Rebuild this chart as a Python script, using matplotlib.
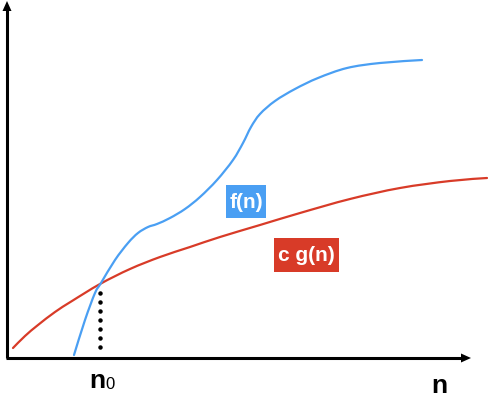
import matplotlib
matplotlib.use("Agg")
import matplotlib.pyplot as plt
from matplotlib.patches import Rectangle, PathPatch
from matplotlib.path import Path

# curve points (pixel coordinates, y downward)
f_x = [74, 85, 95, 101, 115, 128, 138, 148, 157, 170, 185, 200, 217, 233, 243, 251, 260, 275, 295, 318, 347, 380, 422]
f_y = [355, 320, 293, 283, 260, 243, 233, 227, 224, 218, 209, 197, 180, 160, 143, 127, 114, 101, 89, 78, 68, 63, 60]
g_x = [13, 25, 38, 55, 72, 100, 130, 160, 190, 220, 260, 300, 350, 400, 450, 487]
g_y = [348, 336, 325, 312, 301, 284, 269, 257, 247, 237, 225, 213, 199, 188, 181, 178]
n0_x = 100
n0_y = 283

BLUE = "#4A9FF3"
RED = "#D83B28"

plt.rcParams['font.family'] = ['Liberation Sans', 'DejaVu Sans']


def smooth_path(xs, ys):
    pts = list(zip(xs, ys))
    verts = [pts[0]]
    codes = [Path.MOVETO]
    n = len(pts)
    for i in range(n - 1):
        p0 = pts[i - 1] if i > 0 else pts[i]
        p1 = pts[i]
        p2 = pts[i + 1]
        p3 = pts[i + 2] if i + 2 < n else pts[i + 1]
        c1 = (p1[0] + (p2[0] - p0[0]) / 6, p1[1] + (p2[1] - p0[1]) / 6)
        c2 = (p2[0] - (p3[0] - p1[0]) / 6, p2[1] - (p3[1] - p1[1]) / 6)
        verts += [c1, c2, p2]
        codes += [Path.CURVE4] * 3
    return Path(verts, codes)


fig = plt.figure(figsize=(4.88, 4.03), dpi=100)
ax = fig.add_axes([0, 0, 1, 1])
ax.set_xlim(0, 488)
ax.set_ylim(403, 0)
ax.axis('off')

# axes with arrows
ax.plot([7, 7], [358, 10], color='black', lw=2.2, solid_capstyle='butt')
ax.fill([2.5, 11.5, 7], [11, 11, 1], color='black', lw=0)
ax.plot([6, 462], [358, 358], color='black', lw=2.2, solid_capstyle='butt')
ax.fill([461, 461, 471], [353.5, 362.5, 358], color='black', lw=0)

# curves
ax.add_patch(PathPatch(smooth_path(g_x, g_y), fill=False, edgecolor=RED, lw=1.6,
                       capstyle='round', joinstyle='round'))
ax.add_patch(PathPatch(smooth_path(f_x, f_y), fill=False, edgecolor=BLUE, lw=1.6,
                       capstyle='round', joinstyle='round'))

# dotted line at n0
ys = [n0_y + 10 + 9 * i for i in range(7)]
ax.plot([n0_x] * len(ys), ys, linestyle='none', marker='o', ms=2.2, color='black')

# labels
ax.add_patch(Rectangle((226, 185), 40, 33, color=BLUE, lw=0))
ax.text(246, 202, "f(n)", color='white', fontsize=15, fontweight='bold', ha='center', va='center')
ax.add_patch(Rectangle((274, 238), 65, 34, color=RED, lw=0))
ax.text(306.5, 255.5, "c g(n)", color='white', fontsize=15, fontweight='bold', ha='center', va='center')

ax.text(89, 388, "n", fontsize=19, fontweight='bold', ha='left', va='baseline')
ax.text(105, 389, "0", fontsize=12, ha='left', va='baseline')
ax.text(439, 393, "n", fontsize=19, fontweight='bold', ha='center', va='baseline')

fig.savefig("out.png", dpi=100)
